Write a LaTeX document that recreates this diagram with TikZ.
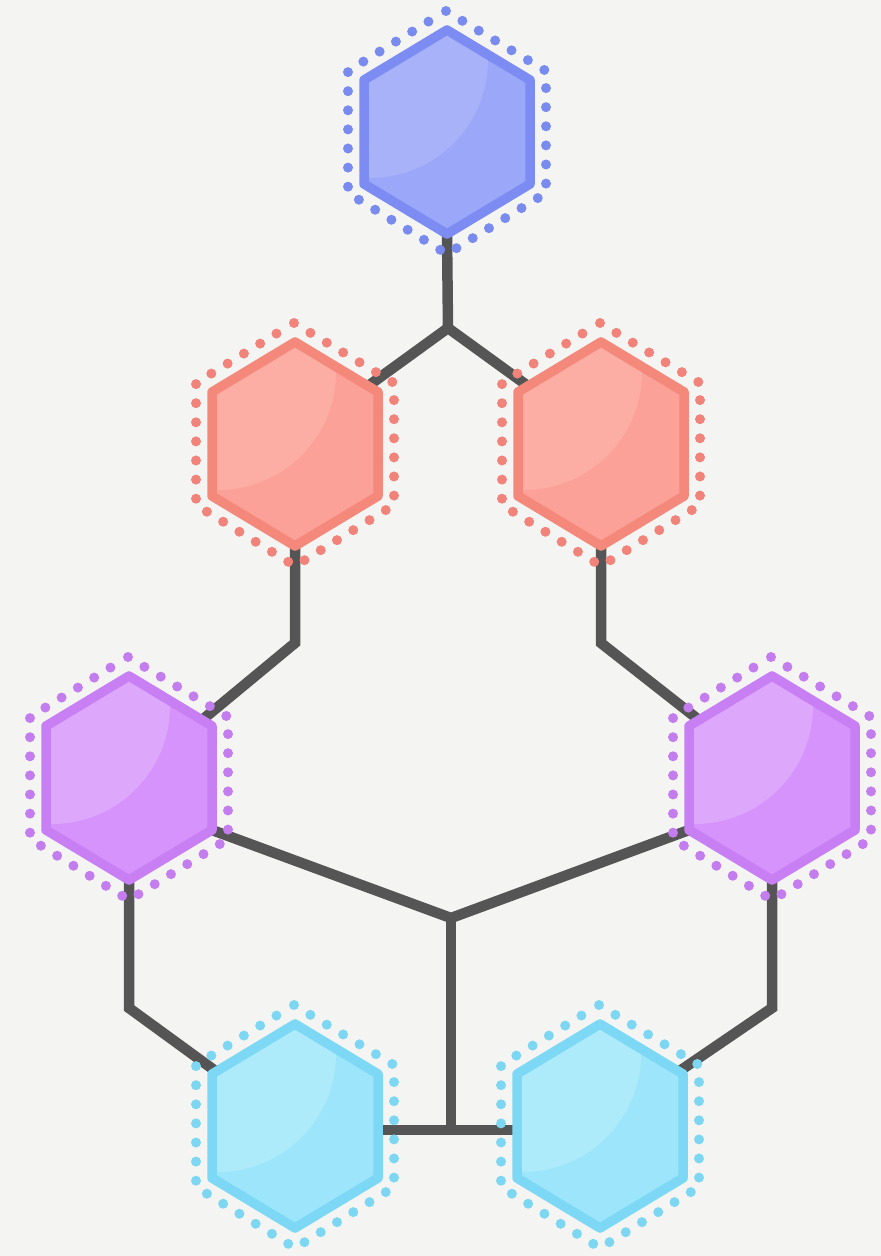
\documentclass[tikz,border=0pt]{standalone}
\usetikzlibrary{calc}
\pgfdeclarelayer{background}
\pgfsetlayers{background,main}
\definecolor{bgc}{HTML}{F4F5F3}
\definecolor{wire}{HTML}{555555}
\definecolor{bluS}{HTML}{7C8CF2}\definecolor{bluF}{HTML}{9BA7F8}\definecolor{bluH}{HTML}{A8B2F9}\definecolor{bluD}{HTML}{7A8BEF}
\definecolor{redS}{HTML}{F4887B}\definecolor{redF}{HTML}{FCA197}\definecolor{redH}{HTML}{FCAEA5}\definecolor{redD}{HTML}{F2837A}
\definecolor{purS}{HTML}{C77FF3}\definecolor{purF}{HTML}{D593FB}\definecolor{purH}{HTML}{DDA8FC}\definecolor{purD}{HTML}{C47DEF}
\definecolor{cyaS}{HTML}{7CD8F4}\definecolor{cyaF}{HTML}{9CE5FA}\definecolor{cyaH}{HTML}{ADEBFB}\definecolor{cyaD}{HTML}{7DD7F2}
\tikzset{
  wireline/.style={draw=wire, line width=10.5pt, line join=miter},
  dotring/.style={line width=10pt, line cap=round, dash pattern=on 0pt off 19.1pt},
  pics/hexa/.style n args={4}{code={
    \coordinate (-n) at (0,-102);
    \coordinate (-ne) at (83,-52);
    \coordinate (-se) at (83,52);
    \coordinate (-s) at (0,102);
    \coordinate (-sw) at (-83,52);
    \coordinate (-nw) at (-83,-52);
    \coordinate (-e) at (83,0);
    \coordinate (-w) at (-83,0);
    \fill[#2] (0,-102) -- (83,-52) -- (83,52) -- (0,102) -- (-83,52) -- (-83,-52) -- cycle;
    \begin{scope}
      \clip (0,-102) -- (83,-52) -- (83,52) -- (0,102) -- (-83,52) -- (-83,-52) -- cycle;
      \fill[#3] (-77,-72) circle (118);
    \end{scope}
    \draw[#1, line width=9.5pt, line join=round] (0,-102) -- (83,-52) -- (83,52) -- (0,102) -- (-83,52) -- (-83,-52) -- cycle;
    \draw[#4, dotring] (-1,-121) -- (99,-61) -- (99,61) -- (0,122) -- (-99,61) -- (-99,-61) -- (-3,-120);
  }}
}
\begin{document}
\begin{tikzpicture}[x=1pt,y=-1pt]
\useasboundingbox (0,0) rectangle (881,1256);
\begin{pgfonlayer}{background}
\fill[bgc] (0,0) rectangle (881,1256);
\end{pgfonlayer}

\pic (top) at (447,132) {hexa={bluS}{bluF}{bluH}{bluD}};
\pic (rl) at (295,444) {hexa={redS}{redF}{redH}{redD}};
\pic (rr) at (601,444) {hexa={redS}{redF}{redH}{redD}};
\pic (pl) at (129,778) {hexa={purS}{purF}{purH}{purD}};
\pic (pr) at (772,778) {hexa={purS}{purF}{purH}{purD}};
\pic (cl) at (295,1126) {hexa={cyaS}{cyaF}{cyaH}{cyaD}};
\pic (cr) at (600,1126) {hexa={cyaS}{cyaF}{cyaH}{cyaD}};

\coordinate (j1) at (448,328);
\coordinate (j2l) at (295,643);
\coordinate (j2r) at (601,643);
\coordinate (j3) at (451,918);
\coordinate (j4l) at (129,1008);
\coordinate (j4r) at (772,1008);
\coordinate (j5) at (451,1130);

\begin{pgfonlayer}{background}
\draw[wireline] (top-s) -- (j1);
\draw[wireline] ($(rl-ne)!0.12!(rl-n)$) -- (j1) -- ($(rr-nw)!0.12!(rr-n)$);
\draw[wireline] (rl-s) -- (j2l) -- ($(pl-ne)!0.12!(pl-n)$);
\draw[wireline] (rr-s) -- (j2r) -- ($(pr-nw)!0.12!(pr-n)$);
\draw[wireline] (pl-se) -- (j3) -- (pr-sw);
\draw[wireline] (j3) -- (j5);
\draw[wireline] (j5 -| cl-e) -- (j5 -| cr-w);
\draw[wireline] (pl-s) -- (j4l) -- ($(cl-nw)!0.05!(cl-n)$);
\draw[wireline] (pr-s) -- (j4r) -- ($(cr-ne)!0.05!(cr-n)$);
\end{pgfonlayer}
\end{tikzpicture}
\end{document}
